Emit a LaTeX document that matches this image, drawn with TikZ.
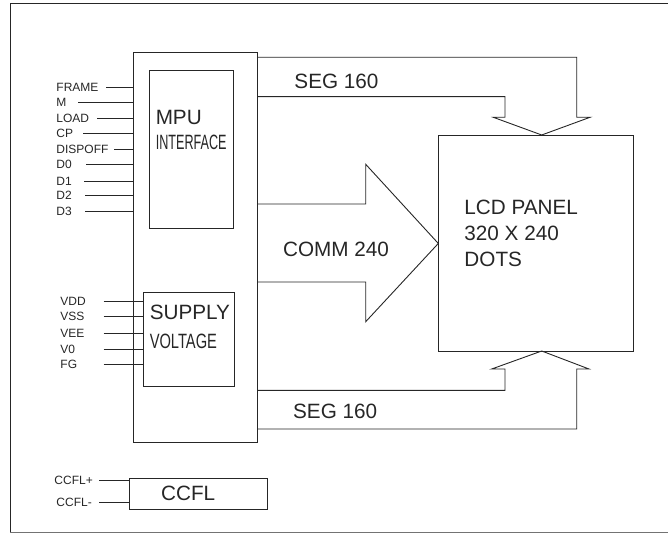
\documentclass[tikz,border=0pt]{standalone}
\usepackage{fontspec}
\setmainfont{Liberation Sans}
\usepackage{graphicx}
\usetikzlibrary{positioning}

\begin{document}
\begin{tikzpicture}[x=1pt, y=-1pt, line width=0.9pt, color=black!85,
    box/.style={draw, inner sep=0pt, anchor=north west},
    sig/.style={font=\fontsize{12}{12}\selectfont, inner sep=0pt, anchor=west},
    txt/.style={font=\fontsize{20.7}{20.7}\selectfont, inner sep=0pt, anchor=base west}]
    \useasboundingbox (0,0) rectangle (668,534);
    % outer frame
    \draw (668,3) -- (10,3) -- (10,532.5);
    \draw[black!55, line width=1.6pt] (10,532.5) -- (668,532.5);

    \node[box, minimum width=124pt, minimum height=389.7pt] (main) at (132.7,52) {};
    \node[box, minimum width=84pt, minimum height=158.6pt] (mpu) at (148.7,69.7) {};
    \node[box, minimum width=91.3pt, minimum height=94pt] (supply) at (143,292.3) {};
    \node[box, minimum width=137.7pt, minimum height=31pt] (ccfl) at (129.3,477.7) {};
    \node[box, minimum width=195pt, minimum height=216pt] (lcd) at (438.3,135) {};

    \node[txt] (mpuT) at (155.3,125) {MPU};
    \node[txt] (mpuI) at (155.3,150) {\scalebox{0.61}[1]{INTERFACE}};
    \node[txt] (supT) at (149.3,319.5) {SUPPLY};
    \node[txt] (supV) at (149.3,348.3) {\scalebox{0.71}[1]{VOLTAGE}};
    \node[txt] (ccflT) at (160.7,500) {CCFL};
    \node[txt] (segA) at (294,88.3) {SEG 160};
    \node[txt] (segB) at (292.7,418.3) {SEG 160};
    \node[txt] (comm) at (282.7,256) {COMM 240};
    \node[txt] (lcdA) at (464,215) {LCD PANEL};
    \node[txt] (lcdB) at (464,240.7) {320 X 240};
    \node[txt] (lcdC) at (464,266.7) {DOTS};

    % inputs
    \foreach \name/\y/\x [count=\i] in {FRAME/87.7/106, M/102.3/78, LOAD/118.3/97, CP/133.7/83,
        DISPOFF/149/114, D0/164/86, D1/181/84, D2/195.7/85, D3/211/85} {
      \node[sig] (in\i) at (56,\y) {\name};
      \coordinate (s\i) at (\x,\y);
      \draw (s\i) -- (s\i -| main.west);
    }
    \foreach \name/\y [count=\i] in {VDD/301.7, VSS/316.7, VEE/333, V0/349, FG/364.7} {
      \node[sig] (pw\i) at (60,\y) {\name};
      \coordinate (p\i) at (103.7,\y);
      \draw (p\i) -- (p\i -| supply.west);
    }
    \node[sig] (cp) at (54,480) {CCFL+};
    \node[sig] (cm) at (56,502.3) {CCFL-};
    \coordinate (c1) at (99,480);
    \coordinate (c2) at (99,502.3);
    \draw (c1) -- (c1 -| ccfl.west);
    \draw (c2) -- (c2 -| ccfl.west);

    % bus arrows
    \coordinate (tipT) at (541.7,135);
    \coordinate (tipB) at (541.7,351);
    \draw (main.east |- 0,57.3) -- (576.7,57.3) -- (576.7,117.3) -- (590,117.3) -- (tipT)
      -- (493.3,117.3) -- (505,117.3) -- (505,96.7) -- (main.east |- 0,96.7);
    \draw (main.east |- 0,204) -- (365.7,204) -- (365.7,164.3) -- (lcd.west)
      -- (365.7,321.7) -- (365.7,282) -- (main.east |- 0,282);
    \draw (main.east |- 0,429) -- (576.7,429) -- (576.7,369) -- (589,369) -- (tipB)
      -- (491.7,369) -- (505,369) -- (505,390.3) -- (main.east |- 0,390.3);
\end{tikzpicture}
\end{document}
